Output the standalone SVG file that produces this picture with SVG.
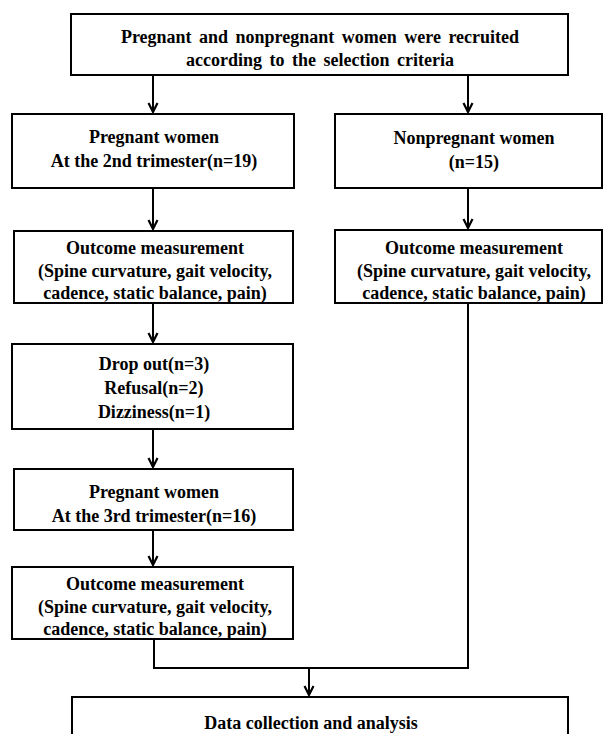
<svg xmlns="http://www.w3.org/2000/svg" width="606" height="734" viewBox="0 0 606 734">
<style>
.box{fill:#fff;stroke:#000;stroke-width:2}
.t{font-family:"Liberation Serif","Times New Roman",serif;font-weight:bold;font-size:18px;fill:#000;text-anchor:middle}
.c{fill:none;stroke:#000;stroke-width:2}
</style>
<defs>
<marker id="ah" viewBox="-1 -1 13 12" refX="10" refY="5" markerWidth="13" markerHeight="12" markerUnits="userSpaceOnUse" orient="auto">
<path d="M1,0.5 L10,5 L1,9.5" fill="none" stroke="#000" stroke-width="2.2" stroke-linejoin="miter"/>
</marker>
</defs>
<rect width="606" height="734" fill="#fff"/>
<g id="connectors">
<line class="c" x1="153" y1="75" x2="153" y2="112" marker-end="url(#ah)"/>
<line class="c" x1="468" y1="75" x2="468" y2="112" marker-end="url(#ah)"/>
<line class="c" x1="153" y1="188" x2="153" y2="229" marker-end="url(#ah)"/>
<line class="c" x1="468" y1="188" x2="468" y2="228" marker-end="url(#ah)"/>
<line class="c" x1="153" y1="303" x2="153" y2="342" marker-end="url(#ah)"/>
<line class="c" x1="153" y1="429" x2="153" y2="467" marker-end="url(#ah)"/>
<line class="c" x1="153" y1="530" x2="153" y2="565" marker-end="url(#ah)"/>
<polyline class="c" points="154,639 154,668 468,668 468,303"/>
<line class="c" x1="309" y1="668" x2="309" y2="695" marker-end="url(#ah)"/>
</g>
<g id="recruit">
<rect class="box" x="71" y="14" width="497" height="61"/>
<text class="t" x="320" y="43" word-spacing="3">Pregnant and nonpregnant women were recruited</text>
<text class="t" x="320" y="66" word-spacing="3">according to the selection criteria</text>
</g>
<g id="preg2">
<rect class="box" x="12" y="114" width="282" height="74"/>
<text class="t" x="154" y="143">Pregnant women</text>
<text class="t" x="154" y="167">At the 2nd trimester(n=19)</text>
</g>
<g id="nonpreg">
<rect class="box" x="335" y="114" width="267" height="74"/>
<text class="t" x="474" y="144">Nonpregnant women</text>
<text class="t" x="474" y="168">(n=15)</text>
</g>
<g id="outcome1">
<rect class="box" x="14" y="231" width="279" height="72"/>
<text class="t" x="155" y="254">Outcome measurement</text>
<text class="t" x="155" y="277">(Spine curvature, gait velocity,</text>
<text class="t" x="155" y="299">cadence, static balance, pain)</text>
</g>
<g id="outcome-nonpreg">
<rect class="box" x="335" y="230" width="267" height="73"/>
<text class="t" x="474" y="254">Outcome measurement</text>
<text class="t" x="474" y="277">(Spine curvature, gait velocity,</text>
<text class="t" x="474" y="299">cadence, static balance, pain)</text>
</g>
<g id="dropout">
<rect class="box" x="12" y="344" width="281" height="85"/>
<text class="t" x="154" y="370">Drop out(n=3)</text>
<text class="t" x="154" y="394">Refusal(n=2)</text>
<text class="t" x="154" y="418">Dizziness(n=1)</text>
</g>
<g id="preg3">
<rect class="box" x="14" y="469" width="279" height="61"/>
<text class="t" x="154" y="498">Pregnant women</text>
<text class="t" x="154" y="522">At the 3rd trimester(n=16)</text>
</g>
<g id="outcome3">
<rect class="box" x="12" y="567" width="281" height="72"/>
<text class="t" x="155" y="590">Outcome measurement</text>
<text class="t" x="155" y="613">(Spine curvature, gait velocity,</text>
<text class="t" x="155" y="635">cadence, static balance, pain)</text>
</g>
<g id="analysis">
<rect class="box" x="72" y="697" width="496" height="60"/>
<text class="t" x="311" y="729">Data collection and analysis</text>
</g>
</svg>
